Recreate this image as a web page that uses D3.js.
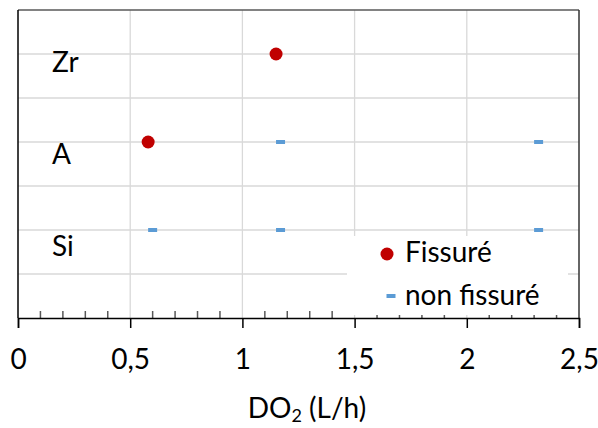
<!DOCTYPE html>
<html><head><meta charset="utf-8">
<script src="https://cdn.jsdelivr.net/npm/d3@7"></script>
<style>body{margin:0;background:#fff}svg{display:block}text{font-family:Lato,"Open Sans",sans-serif;fill:#000}</style>
</head><body><div id="c"></div>
<script>
const categories = ["Si", "A", "Zr"];
const categoryY = [2, 4, 6];
const labelY = [1.4, 3.5, 5.6];
const fissureX = [0.58, 1.15];
const fissureY = [4, 6];
const nonFissureX = [1.17, 2.32, 0.60, 1.17, 2.32];
const nonFissureY = [4, 4, 2, 2, 2];
const xTicks = [0, 0.5, 1, 1.5, 2, 2.5];
const seriesNames = ["Fissuré", "non fissuré"];
const colors = ["#c00000", "#5b9bd5"];

const W = 598, H = 428;
const m = {l: 18, r: 19, t: 10, b: 110};
const x = d3.scaleLinear().domain([0, 2.5]).range([m.l, W - m.r]);
const y = d3.scaleLinear().domain([0, 7]).range([H - m.b, m.t]);
const FS = 28;

const svg = d3.select("#c").append("svg").attr("width", W).attr("height", H);

// gridlines
const g = svg.append("g").attr("stroke", "#d9d9d9").attr("stroke-width", 1.3);
g.selectAll(".vx").data(d3.range(0.5, 2.5, 0.5)).enter().append("line")
  .attr("x1", d => x(d)).attr("x2", d => x(d)).attr("y1", y(7)).attr("y2", y(0));
g.selectAll(".hy").data(d3.range(1, 7)).enter().append("line")
  .attr("x1", x(0)).attr("x2", x(2.5)).attr("y1", d => y(d)).attr("y2", d => y(d));

// borders
svg.append("line").attr("x1", x(0)).attr("x2", x(2.5)).attr("y1", y(7)).attr("y2", y(7)).attr("stroke", "#595959").attr("stroke-width", 1.5);
svg.append("line").attr("x1", x(2.5)).attr("x2", x(2.5)).attr("y1", y(7)).attr("y2", y(0)).attr("stroke", "#333").attr("stroke-width", 1.5);
svg.append("line").attr("x1", x(0)).attr("x2", x(0)).attr("y1", y(7)).attr("y2", y(0)).attr("stroke", "#000").attr("stroke-width", 1.5);

// category labels
svg.selectAll(".cat").data(categories).enter().append("text")
  .attr("x", 52).attr("y", (d, i) => y(labelY[i]))
  .attr("font-size", FS).text(d => d);

// x axis minor ticks (up)
const minor = d3.range(0, 26).map(i => i / 10).filter(v => Math.abs(v * 2 - Math.round(v * 2)) > 1e-6);
svg.append("g").selectAll("line").data(minor).enter().append("line")
  .attr("x1", d => x(d)).attr("x2", d => x(d)).attr("y1", y(0) - 7).attr("y2", y(0))
  .attr("stroke", "#595959").attr("stroke-width", 1.5);

// legend background
svg.append("rect").attr("x", 347).attr("y", 236).attr("width", 221).attr("height", 79).attr("fill", "#fff");

// x axis
const xa = svg.append("g").attr("transform", `translate(0,${y(0)})`)
  .call(d3.axisBottom(x).tickValues(xTicks).tickSize(10).tickPadding(21)
    .tickFormat(d => d3.format("")(d).replace(".", ",")));
xa.select(".domain").attr("stroke", "#000").attr("stroke-width", 1.5);
xa.selectAll(".tick line").attr("stroke", "#000").attr("stroke-width", 1.5);
xa.selectAll(".tick text").attr("font-size", FS).attr("font-family", "Lato,sans-serif").attr("fill", "#000");

// data
svg.append("g").selectAll("circle").data(fissureX).enter().append("circle")
  .attr("cx", d => x(d)).attr("cy", (d, i) => y(fissureY[i])).attr("r", 6.5).attr("fill", colors[0]);
svg.append("g").selectAll("rect").data(nonFissureX).enter().append("rect")
  .attr("x", d => x(d) - 4.5).attr("y", (d, i) => y(nonFissureY[i]) - 2).attr("width", 9).attr("height", 4).attr("fill", colors[1]);

// legend
const lg = svg.append("g");
lg.append("circle").attr("cx", 387).attr("cy", 254).attr("r", 6.5).attr("fill", colors[0]);
lg.append("rect").attr("x", 386.5).attr("y", 294).attr("width", 9).attr("height", 4).attr("fill", colors[1]);
lg.append("text").attr("x", 405).attr("y", 262).attr("font-size", FS).text(seriesNames[0]);
lg.append("text").attr("x", 405).attr("y", 305).attr("font-size", FS).text(seriesNames[1]);

// axis title
const t = svg.append("text").attr("x", 307).attr("y", 418).attr("text-anchor", "middle").attr("font-size", FS);
t.append("tspan").text("DO");
t.append("tspan").attr("font-size", 18).attr("dy", 4).text("2");
t.append("tspan").attr("dy", -4).text(" (L/h)");
</script></body></html>
